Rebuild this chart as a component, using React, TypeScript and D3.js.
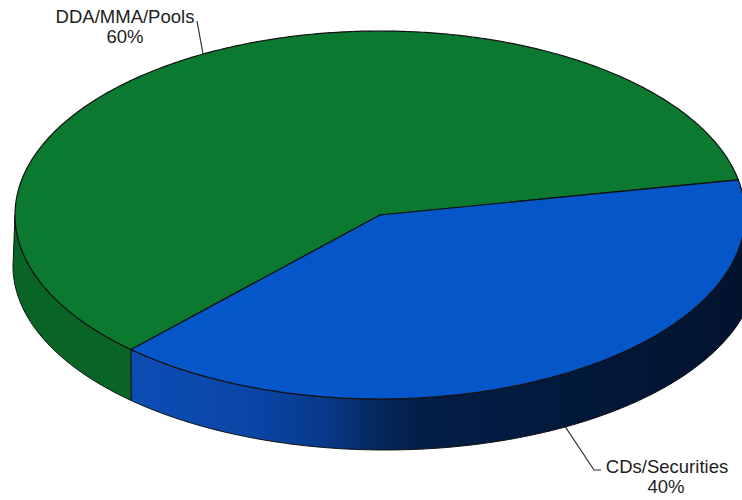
import React from "react";
import * as d3 from "d3";

const categories = ["DDA/MMA/Pools", "CDs/Securities"];
const values = [60, 40];
const percentLabels = ["60%", "40%"];

const topColors = ["#0b7a30", "#0556c9"];
const sideColors = ["#086526", "url(#blueSide)"];

const W = 742, H = 500;
// top face ellipse
const T = { cx: 380, cy: 215, rx: 365, ry: 184 };
// bottom rim ellipse
const B = { cx: 385, cy: 266, rx: 372, ry: 184 };
const deg = Math.PI / 180;

type E = { cx: number; cy: number; rx: number; ry: number };

function pt(e: E, a: number): [number, number] {
  // a in d3 pie convention (0 = 12 o'clock, clockwise)
  const t = a - Math.PI / 2;
  return [e.cx + e.rx * Math.cos(t), e.cy + e.ry * Math.sin(t)];
}

function arcPts(e: E, a0: number, a1: number): [number, number][] {
  const n = Math.max(2, Math.ceil(Math.abs(a1 - a0) / (0.5 * deg)));
  const out: [number, number][] = [];
  for (let i = 0; i <= n; i++) out.push(pt(e, a0 + ((a1 - a0) * i) / n));
  return out;
}

const line = d3.line<[number, number]>();

export default function App() {
  const pie = d3
    .pie<number>()
    .sort(null)
    .startAngle(223 * deg)
    .endAngle(583 * deg);
  const arcs = pie(values);

  // front side visible for a in [90deg, 270deg] (mod 360)
  const sides: JSX.Element[] = [];
  arcs.forEach((d, i) => {
    for (let k = -1; k <= 2; k++) {
      const lo = Math.max(d.startAngle, 90 * deg + k * 2 * Math.PI);
      const hi = Math.min(d.endAngle, 270 * deg + k * 2 * Math.PI);
      if (hi > lo) {
        const top = arcPts(T, lo, hi);
        const bot = arcPts(B, hi, lo);
        sides.push(
          <path
            key={`s${i}${k}`}
            d={line([...top, ...bot])! + "Z"}
            fill={sideColors[i]}
            stroke="#111"
            strokeWidth={1}
            strokeLinejoin="round"
          />
        );
      }
    }
  });

  const tops = arcs.map((d, i) => {
    const p = [[T.cx, T.cy] as [number, number], ...arcPts(T, d.startAngle, d.endAngle)];
    return (
      <path
        key={`t${i}`}
        d={line(p)! + "Z"}
        fill={topColors[i]}
        stroke="#111"
        strokeWidth={1.2}
        strokeLinejoin="round"
      />
    );
  });

  const mid0 = (arcs[0].startAngle + arcs[0].endAngle) / 2;
  const mid1 = (arcs[1].startAngle + arcs[1].endAngle) / 2;
  const a0 = pt(T, mid0);
  const a1 = pt(B, mid1);

  const font = "Liberation Sans, Arial, sans-serif";
  const g0 = 131, g1 = 742;
  const off = (x: number) => (x - g0) / (g1 - g0);

  return (
    <svg width={W} height={H} style={{ position: "absolute", left: 0, top: 0, background: "#fff" }}>
      <defs>
        <linearGradient id="blueSide" gradientUnits="userSpaceOnUse" x1={g0} y1={0} x2={g1} y2={0}>
          <stop offset="0" stopColor="#0c4db5" />
          <stop offset={off(250)} stopColor="#0a46a6" />
          <stop offset={off(320)} stopColor="#083a8c" />
          <stop offset={off(370)} stopColor="#052a62" />
          <stop offset={off(420)} stopColor="#031e48" />
          <stop offset="1" stopColor="#02132e" />
        </linearGradient>
      </defs>
      {sides}
      {tops}
      <polyline
        points={`197,21 ${a0[0]},${a0[1]}`}
        fill="none"
        stroke="#333"
        strokeWidth={1.2}
      />
      <polyline
        points={`${a1[0]},${a1[1]} 594,470 601,470`}
        fill="none"
        stroke="#333"
        strokeWidth={1.2}
      />
      <g fontFamily={font} fontSize={18.5} fill="#222" textAnchor="middle">
        <text x={125} y={23}>{categories[0]}</text>
        <text x={125} y={43}>{percentLabels[0]}</text>
        <text x={667} y={473}>{categories[1]}</text>
        <text x={666} y={493}>{percentLabels[1]}</text>
      </g>
    </svg>
  );
}
